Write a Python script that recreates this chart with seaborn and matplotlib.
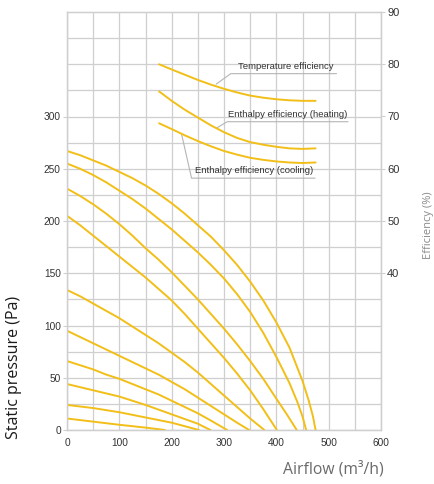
import matplotlib
matplotlib.use("Agg")
import matplotlib.pyplot as plt
import numpy as np
import pandas as pd
import seaborn as sns

# Fan curves: airflow (m3/h) vs static pressure (Pa), one pair per speed step
airflow_s1 = [0, 25, 50, 75, 100, 125, 150, 175, 200, 225, 250, 275, 300, 325, 350, 375, 400, 425, 450, 462, 470, 475]
pressure_s1 = [267, 263, 258, 253, 247, 241, 234, 226, 217, 207, 196, 185, 172, 158, 142, 124, 103, 79, 47, 28, 13, 0]
airflow_s2 = [0, 25, 50, 75, 100, 125, 150, 175, 200, 225, 250, 275, 300, 325, 350, 375, 400, 425, 440, 450, 457]
pressure_s2 = [255, 250, 244, 237, 229, 221, 212, 202, 192, 181, 170, 158, 145, 130, 113, 93, 70, 45, 27, 13, 0]
airflow_s3 = [0, 25, 50, 75, 100, 125, 150, 175, 200, 225, 250, 275, 300, 325, 350, 375, 400, 420, 439]
pressure_s3 = [231, 224, 216, 207, 197, 186, 174, 163, 151, 138, 125, 111, 97, 82, 66, 49, 30, 15, 0]
airflow_s4 = [0, 25, 50, 75, 100, 125, 150, 175, 200, 225, 250, 275, 300, 325, 350, 375, 401]
pressure_s4 = [205, 196, 186, 176, 166, 156, 146, 135, 124, 111, 97, 83, 69, 54, 38, 20, 0]
airflow_s5 = [0, 25, 50, 75, 100, 125, 150, 175, 200, 225, 250, 275, 300, 325, 350, 377]
pressure_s5 = [134, 128, 121, 114, 107, 99, 91, 83, 74, 65, 55, 44, 33, 22, 11, 0]
airflow_s6 = [0, 25, 50, 75, 100, 125, 150, 175, 200, 225, 250, 275, 300, 325, 348]
pressure_s6 = [95, 89, 83, 77, 71, 65, 59, 53, 46, 39, 31, 23, 15, 7, 0]
airflow_s7 = [0, 25, 50, 75, 100, 125, 150, 175, 200, 225, 250, 275, 306]
pressure_s7 = [66, 62, 58, 53, 49, 44, 39, 34, 28, 22, 16, 9, 0]
airflow_s8 = [0, 50, 100, 150, 200, 250, 274]
pressure_s8 = [44, 38, 32, 24, 15, 6, 0]
airflow_s9 = [0, 50, 100, 150, 200, 252]
pressure_s9 = [24, 21, 17, 12, 7, 0]
airflow_s10 = [0, 50, 100, 150, 187]
pressure_s10 = [11, 8, 5, 2.3, 0]

# Exchanger efficiency (%) vs airflow
eff_airflow = [176, 200, 225, 250, 275, 300, 325, 350, 375, 400, 425, 450, 475]
temperature_eff = [80.0, 79.0, 78.0, 77.0, 76.1, 75.3, 74.6, 74.0, 73.6, 73.3, 73.1, 73.0, 73.0]
enthalpy_heating_eff = [74.8, 73.0, 71.3, 69.8, 68.3, 67.0, 65.9, 65.1, 64.6, 64.2, 63.9, 63.8, 63.9]
enthalpy_cooling_eff = [68.7, 67.6, 66.4, 65.3, 64.3, 63.4, 62.7, 62.1, 61.7, 61.4, 61.2, 61.1, 61.2]

x_ticks = [0, 100, 200, 300, 400, 500, 600]
p_ticks = [0, 50, 100, 150, 200, 250, 300]
eff_ticks = [40, 50, 60, 70, 80, 90]

fan_pairs = [
    (airflow_s1, pressure_s1), (airflow_s2, pressure_s2), (airflow_s3, pressure_s3),
    (airflow_s4, pressure_s4), (airflow_s5, pressure_s5), (airflow_s6, pressure_s6),
    (airflow_s7, pressure_s7), (airflow_s8, pressure_s8), (airflow_s9, pressure_s9),
    (airflow_s10, pressure_s10),
]
fan_df = pd.concat(
    [pd.DataFrame({"airflow": a, "pressure": p, "step": i}) for i, (a, p) in enumerate(fan_pairs)],
    ignore_index=True,
)
eff_df = pd.concat(
    [
        pd.DataFrame({"airflow": eff_airflow, "eff": temperature_eff, "kind": "temp"}),
        pd.DataFrame({"airflow": eff_airflow, "eff": enthalpy_heating_eff, "kind": "heat"}),
        pd.DataFrame({"airflow": eff_airflow, "eff": enthalpy_cooling_eff, "kind": "cool"}),
    ],
    ignore_index=True,
)

sns.set_style("white")
plt.rcParams["font.family"] = ["Liberation Sans", "DejaVu Sans"]

YELLOW = "#F2BF18"
GRID = "#cfcfcf"
TXT = "#333333"

fig = plt.figure(figsize=(4.34, 4.84), dpi=100)
ax = fig.add_axes([67 / 434, 1 - 430 / 484, 314 / 434, 418 / 484])

sns.lineplot(data=fan_df, x="airflow", y="pressure", hue="step", units="step",
             estimator=None, sort=False, palette=[YELLOW] * len(fan_pairs),
             legend=False, linewidth=1.4, ax=ax, zorder=3)

ax.set_xlim(0, 600)
ax.set_ylim(0, 400)
ax.set_xticks(x_ticks)
ax.set_xticks(np.arange(50, 600, 100), minor=True)
ax.set_yticks(p_ticks)
ax.set_yticks([v for v in range(25, 400, 25) if v not in p_ticks], minor=True)
ax.grid(True, which="both", color=GRID, linewidth=0.9)
ax.set_axisbelow(True)
ax.tick_params(axis="x", which="both", length=0, pad=5.5, labelsize=7.3, labelcolor=TXT)
ax.tick_params(axis="y", which="major", length=3, width=0.8, color=GRID, pad=1.5,
               labelsize=7.3, labelcolor=TXT)
ax.tick_params(axis="y", which="minor", length=0)
for s in ax.spines.values():
    s.set_color(GRID)
    s.set_linewidth(0.9)
ax.set_xlabel("")
ax.set_ylabel("")

# Efficiency axis on the right
ax2 = ax.twinx()
sns.lineplot(data=eff_df, x="airflow", y="eff", hue="kind", units="kind",
             estimator=None, sort=False, palette=[YELLOW] * 3,
             legend=False, linewidth=1.4, ax=ax2)
ax2.set_ylim(10, 90)
ax2.set_yticks(eff_ticks)
ax2.grid(False)
ax2.tick_params(axis="y", length=3, width=0.8, color=GRID, pad=1.5,
                labelsize=8, labelcolor=TXT)
for s in ax2.spines.values():
    s.set_color(GRID)
    s.set_linewidth(0.9)
ax2.set_ylabel("")

# Curve labels with leader lines (drawn in pressure coordinates)
LEAD = "#b5b5b5"
ax.plot([285, 313, 515], [331, 341, 341], color=LEAD, linewidth=0.8, zorder=4)
ax.text(418, 344, "Temperature efficiency", fontsize=6.8, color=TXT,
        ha="center", va="bottom", zorder=5)
ax.plot([286, 306, 537], [289, 295, 295], color=LEAD, linewidth=0.8, zorder=4)
ax.text(422, 298, "Enthalpy efficiency (heating)", fontsize=6.8, color=TXT,
        ha="center", va="bottom", zorder=5)
ax.plot([219, 238, 474], [283, 241, 241], color=LEAD, linewidth=0.8, zorder=4)
ax.text(357, 244, "Enthalpy efficiency (cooling)", fontsize=6.8, color=TXT,
        ha="center", va="bottom", zorder=5)

# Axis titles
fig.text(14 / 434, 1 - 367 / 484, "Static pressure (Pa)", rotation=90,
         fontsize=11.5, color="#1a1a1a", family="Open Sans",
         ha="center", va="center")
fig.text(333 / 434, 1 - 469 / 484, "Airflow (m³/h)", fontsize=11.3,
         color="#6a6a6a", family="Open Sans", ha="center", va="center")
fig.text(428 / 434, 1 - 225 / 484, "Efficiency (%)", rotation=90, fontsize=8,
         color="#8a8a8a", family="Open Sans", ha="center", va="center")

fig.savefig("out.png", dpi=100)
